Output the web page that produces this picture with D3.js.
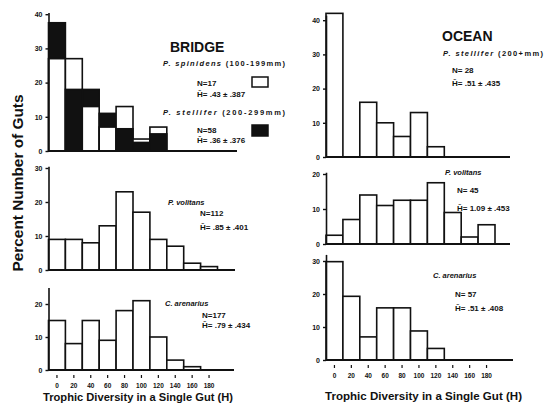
<!DOCTYPE html>
<html>
<head>
<meta charset="utf-8">
<script src="https://cdn.jsdelivr.net/npm/d3@7"></script>
<style>
  html, body { margin: 0; padding: 0; background: #fff; }
  svg { display: block; }
  text { font-family: "Liberation Sans", Arial, Helvetica, sans-serif; fill: #111; }
</style>
</head>
<body>
<svg id="chart" width="551" height="409"></svg>
<script>
// Trophic diversity class labels (H), one per histogram bin
const binLabels = ["0", "20", "40", "60", "80", "100", "120", "140", "160", "180"];

// BRIDGE site: percent number of guts per diversity class
const bridgeSpinidens = [27, 27, 13, 7, 13, 3.5, 7];          // open bars
const bridgeStellifer = [37.5, 18, 18, 11, 6.5, 2.5, 5];      // solid bars
const bridgeVolitans  = [9, 9, 8, 13, 23, 17, 9, 7, 2, 1];
const bridgeArenarius = [15, 8, 15, 9, 18, 21, 10, 3, 1];

// OCEAN site
const oceanStellifer = [42, 0, 16, 10, 6, 13, 3];
const oceanVolitans  = [2.5, 7, 14, 11, 12.5, 12.5, 17.5, 9, 2, 5.5];
const oceanArenarius = [29.8, 19.3, 7, 15.8, 15.8, 8.8, 3.5];

// Y tick values per panel
const ticksTop40 = [0, 10, 20, 30, 40];
const ticks30 = [0, 10, 20, 30];
const ticks20 = [0, 10, 20];

const svg = d3.select("#chart");
const ink = "#111";

// Panel geometry
const panels = [
  { id: "bl-top", x0: 48.5, xEnd: 237, base: 151, unit: 34.2, ymax: 40.5, ticks: ticksTop40,
    series: [{ values: bridgeSpinidens, fill: "#fff" }, { values: bridgeStellifer, fill: ink }] },
  { id: "bl-mid", x0: 48.5, xEnd: 235, base: 270, unit: 34, ymax: 30.5, ticks: ticks30,
    series: [{ values: bridgeVolitans, fill: "#fff" }] },
  { id: "bl-bot", x0: 48.5, xEnd: 234, base: 370, unit: 33, ymax: 25, ticks: ticks20, xLabels: true,
    series: [{ values: bridgeArenarius, fill: "#fff" }] },
  { id: "oc-top", x0: 326, xEnd: 510, base: 157, unit: 34.2, ymax: 41.5, ticks: ticksTop40,
    series: [{ values: oceanStellifer, fill: "#fff" }] },
  { id: "oc-mid", x0: 326, xEnd: 510, base: 244, unit: 35, ymax: 20.5, ticks: ticks20,
    series: [{ values: oceanVolitans, fill: "#fff" }] },
  { id: "oc-bot", x0: 326, xEnd: 513, base: 360, unit: 33, ymax: 32, ticks: ticks30, xLabels: true,
    series: [{ values: oceanArenarius, fill: "#fff" }] }
];

const bandW = 16.9;

panels.forEach(p => {
  const g = svg.append("g").attr("class", p.id);
  const x = d3.scaleBand().domain(binLabels)
    .range([p.x0, p.x0 + bandW * binLabels.length]).padding(0);
  const y = d3.scaleLinear().domain([0, p.ymax])
    .range([p.base, p.base - p.ymax * p.unit / 10]);

  // Bars: within each bin the taller bar is drawn first so the shorter one stays visible
  const bars = [];
  p.series.forEach((s, si) => s.values.forEach((v, i) => {
    if (v > 0) bars.push({ bin: binLabels[i], v, fill: s.fill, si });
  }));
  bars.sort((a, b) => d3.ascending(binLabels.indexOf(a.bin), binLabels.indexOf(b.bin)) || d3.descending(a.v, b.v));

  g.selectAll("rect.bar").data(bars).join("rect")
    .attr("class", "bar")
    .attr("x", d => x(d.bin))
    .attr("y", d => y(d.v))
    .attr("width", x.bandwidth())
    .attr("height", d => y(0) - y(d.v))
    .attr("fill", d => d.fill)
    .attr("stroke", ink)
    .attr("stroke-width", 1.6);

  // Y axis
  const yAxis = d3.axisLeft(y).tickValues(p.ticks).tickSize(3).tickPadding(3).tickSizeOuter(0)
    .tickFormat(d3.format("d"));
  const ga = g.append("g").attr("transform", `translate(${p.x0},0)`).call(yAxis);
  ga.select(".domain").attr("stroke", ink).attr("stroke-width", 1.6);
  ga.selectAll(".tick line").attr("stroke", ink).attr("stroke-width", 1.4);
  ga.selectAll(".tick text").style("font-size", "7px").style("font-weight", "bold").attr("fill", ink);

  // Baseline
  g.append("line")
    .attr("x1", p.x0).attr("x2", p.xEnd)
    .attr("y1", p.base).attr("y2", p.base)
    .attr("stroke", ink).attr("stroke-width", 1.8);

  // Class labels under the bottom panels
  if (p.xLabels) {
    const xAxis = d3.axisBottom(x).tickSize(3).tickPadding(5);
    const gx = g.append("g").attr("transform", `translate(0,${p.base + 5})`).call(xAxis);
    gx.select(".domain").remove();
    gx.selectAll(".tick line").attr("stroke", ink).attr("stroke-width", 1.2);
    gx.selectAll(".tick text").style("font-size", "6.5px").style("font-weight", "bold").attr("fill", ink);
  }
});

// Annotations
function note(x, y, txt, opts = {}) {
  const t = svg.append("text").attr("x", x).attr("y", y)
    .style("font-size", (opts.size || 8) + "px")
    .style("font-weight", "bold")
    .text(txt);
  if (opts.italic) t.style("font-style", "italic");
  return t;
}
function species(x, y, name, extra, len) {
  const t = svg.append("text").attr("x", x).attr("y", y)
    .style("font-size", "7.5px").style("font-weight", "bold");
  if (len) t.attr("textLength", len).attr("lengthAdjust", "spacing");
  t.append("tspan").style("font-style", "italic").text(name);
  if (extra) t.append("tspan").text(" " + extra);
}

// BRIDGE block
note(170, 52, "BRIDGE", { size: 14 });
species(163, 66, "P. spinidens", "(100-199mm)", 122);
note(197, 86, "N=17");
note(197, 97, "H\u0304= .43 \u00b1 .387");
svg.append("rect").attr("x", 252).attr("y", 77).attr("width", 16).attr("height", 10)
  .attr("fill", "#fff").attr("stroke", ink).attr("stroke-width", 1.5);
species(163, 115, "P. stellifer", "(200-299mm)", 122);
note(197, 133, "N=58");
note(197, 143, "H\u0304= .36 \u00b1 .376");
svg.append("rect").attr("x", 252).attr("y", 125).attr("width", 16).attr("height", 11)
  .attr("fill", ink).attr("stroke", ink).attr("stroke-width", 1.5);

species(168, 205, "P. volitans");
note(200, 216, "N=112");
note(200, 230, "H\u0304= .85 \u00b1 .401");

species(165, 306, "C. arenarius");
note(202, 318, "N=177");
note(202, 328, "H\u0304= .79 \u00b1 .434");

// OCEAN block
note(442, 41, "OCEAN", { size: 14 });
species(443, 56, "P. stellifer", "(200+mm)", 100);
note(452, 73, "N= 28");
note(452, 86, "H\u0304= .51 \u00b1 .435");

species(445, 175, "P. volitans");
note(457, 193, "N= 45");
note(457, 211, "H\u0304= 1.09 \u00b1 .453");

species(433, 278, "C. arenarius");
note(455, 297, "N= 57");
note(455, 311, "H\u0304= .51 \u00b1 .408");

// Axis titles
svg.append("text")
  .attr("transform", "translate(23,183) rotate(-90)")
  .attr("text-anchor", "middle")
  .attr("textLength", 177).attr("lengthAdjust", "spacingAndGlyphs")
  .style("font-size", "14px").style("font-weight", "bold")
  .text("Percent Number of Guts");

svg.append("text")
  .attr("x", 43).attr("y", 401)
  .attr("textLength", 190).attr("lengthAdjust", "spacingAndGlyphs")
  .style("font-size", "10.5px").style("font-weight", "bold")
  .text("Trophic Diversity in a Single Gut (H)");

svg.append("text")
  .attr("x", 325).attr("y", 400)
  .attr("textLength", 197).attr("lengthAdjust", "spacingAndGlyphs")
  .style("font-size", "10.5px").style("font-weight", "bold")
  .text("Trophic Diversity in a Single Gut (H)");
</script>
</body>
</html>
